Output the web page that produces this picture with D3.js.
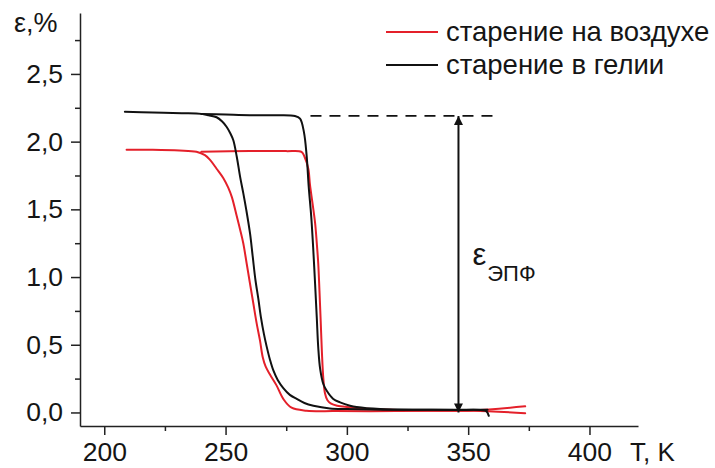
<!DOCTYPE html>
<html><head><meta charset="utf-8">
<script src="https://cdn.jsdelivr.net/npm/d3@7"></script>
<style>
body{margin:0;background:#fff}
svg text{font-family:"Liberation Sans",Arial,sans-serif;fill:#151515}
</style></head><body>
<svg id="chart" width="715" height="468"></svg>
<script>
// axis ticks
const xMajorTicks = [200, 250, 300, 350, 400];
const xMinorTicks = [225, 275, 325, 375];
const yMajorTicks = [0, 0.5, 1, 1.5, 2, 2.5];
const yMinorTicks = [0.25, 0.75, 1.25, 1.75, 2.25, 2.75];
const legendLabels = ["старение на воздухе", "старение в гелии"];

// strain ε (%) vs temperature T (K): two branches of each hysteresis loop
const airLow = [[209.2,1.94],[220,1.94],[231,1.935],[238,1.925],[241.5,1.90],[243.6,1.865],[246.3,1.80],[249.1,1.73],[251.1,1.66],[252.6,1.59],[254.6,1.45],[256,1.35],[257.3,1.25],[258.7,1.10],[260,0.96],[261.4,0.81],[262.8,0.66],[264.2,0.53],[265.3,0.41],[266.5,0.34],[268.3,0.28],[271,0.20],[273.8,0.10],[277.2,0.035],[283.4,0.013],[295,0.01],[320,0.01],[340,0.012],[352,0.012],[373.5,-0.005]];
const airHigh = [[240,1.925],[260,1.93],[275,1.93],[281.3,1.925],[282.5,1.89],[284.1,1.80],[284.8,1.68],[285.8,1.55],[286.9,1.40],[287.6,1.25],[288.2,1.10],[288.7,0.90],[289.2,0.68],[289.7,0.45],[290.3,0.25],[291,0.14],[292,0.09],[293.5,0.065],[296,0.05],[300,0.04],[310,0.025],[330,0.015],[352,0.015],[373.5,0.045]];
const heliumLow = [[208.5,2.22],[220,2.215],[232,2.21],[240,2.205],[243,2.195],[246.3,2.18],[248.5,2.15],[250.4,2.11],[252,2.06],[253.2,2.01],[254.6,1.89],[256,1.74],[257.3,1.62],[258.5,1.50],[260.1,1.32],[261.2,1.15],[262.3,0.98],[263.5,0.84],[264.6,0.70],[265.8,0.58],[266.9,0.49],[268.3,0.39],[269.7,0.31],[271.5,0.24],[273.8,0.18],[276.5,0.13],[279.3,0.10],[282.5,0.07],[286.2,0.05],[293,0.03],[300,0.025],[315,0.02],[330,0.02],[345,0.018],[355,0.018],[357.5,0.01],[358.5,-0.025]];
const heliumHigh = [[240,2.205],[250,2.20],[260,2.195],[270,2.195],[278.6,2.19],[280.7,2.17],[282.3,2.07],[283.4,1.90],[284.3,1.66],[285.3,1.45],[286.1,1.22],[286.9,0.95],[287.6,0.70],[288.2,0.48],[289,0.32],[290.3,0.21],[291.7,0.16],[294.4,0.10],[297.2,0.075],[301.3,0.05],[304,0.04],[313.7,0.025],[330,0.02],[345,0.02],[358,0.02]];

// ε_SME annotation: dashed saturation level and double arrow
const saturationLevel = 2.19;
const dashedRange = [285, 363];
const arrowT = 346;

const colors = {air: "#e4202a", helium: "#111111"};

const svg = d3.select("#chart");
const x = d3.scaleLinear().domain([190, 420]).range([80, 638]);
const y = d3.scaleLinear().domain([-0.1, 2.95]).range([426, 13]);
const fmt = d => d3.format(".1f")(d).replace(".", ",");

// axes: major ticks with labels, minor ticks without
const gx = svg.append("g").attr("transform", "translate(0,426)");
gx.call(d3.axisBottom(x).tickValues(xMajorTicks).tickSize(9).tickSizeOuter(0).tickPadding(7).tickFormat(d3.format("d")));
const gxm = svg.append("g").attr("transform", "translate(0,426)");
gxm.call(d3.axisBottom(x).tickValues(xMinorTicks).tickSize(5).tickSizeOuter(0).tickFormat(""));
gxm.select(".domain").remove();

const gy = svg.append("g").attr("transform", "translate(80,0)");
gy.call(d3.axisLeft(y).tickValues(yMajorTicks).tickSize(9).tickSizeOuter(0).tickPadding(8).tickFormat(fmt));
const gym = svg.append("g").attr("transform", "translate(80,0)");
gym.call(d3.axisLeft(y).tickValues(yMinorTicks).tickSize(5).tickSizeOuter(0).tickFormat(""));
gym.select(".domain").remove();

svg.selectAll(".domain, .tick line").attr("stroke", "#222").attr("stroke-width", 1.5);
svg.selectAll(".tick text").attr("font-size", 26.5).attr("fill", "#151515")
  .attr("font-family", "'Liberation Sans', Arial, sans-serif");

// axis titles
svg.append("text").attr("x", 14).attr("y", 32).attr("font-size", 27).text("ε,%");
svg.append("text").attr("x", 630).attr("y", 461).attr("font-size", 26).text("T, K");

// curves
const line = d3.line().x(d => x(d[0])).y(d => y(d[1])).curve(d3.curveCatmullRom.alpha(0.5));
[[airLow, colors.air], [airHigh, colors.air], [heliumLow, colors.helium], [heliumHigh, colors.helium]]
  .forEach(([data, c]) => {
    svg.append("path").datum(data).attr("d", line)
      .attr("fill", "none").attr("stroke", c).attr("stroke-width", 2)
      .attr("stroke-linejoin", "round").attr("stroke-linecap", "round");
  });

// dashed saturation line
svg.append("line")
  .attr("x1", x(dashedRange[0])).attr("x2", x(dashedRange[1]))
  .attr("y1", y(saturationLevel)).attr("y2", y(saturationLevel))
  .attr("stroke", "#111").attr("stroke-width", 1.6).attr("stroke-dasharray", "11,8");

// double-headed arrow
const defs = svg.append("defs");
defs.append("marker").attr("id", "ah").attr("viewBox", "0 0 10 10")
  .attr("refX", 10).attr("refY", 5).attr("markerWidth", 4.5).attr("markerHeight", 6)
  .attr("markerUnits", "strokeWidth").attr("orient", "auto-start-reverse")
  .append("path").attr("d", "M0,0 L10,5 L0,10 Z").attr("fill", "#111");
svg.append("line")
  .attr("x1", x(arrowT)).attr("x2", x(arrowT))
  .attr("y1", y(0)).attr("y2", y(saturationLevel))
  .attr("stroke", "#111").attr("stroke-width", 2)
  .attr("marker-start", "url(#ah)").attr("marker-end", "url(#ah)");

const lab = svg.append("text").attr("x", x(arrowT) + 14).attr("y", 265);
lab.append("tspan").attr("font-size", 31).text("ε");
lab.append("tspan").attr("font-size", 22).attr("dy", 16).attr("dx", 1).text("ЭПФ");

// legend
const legend = svg.append("g");
[[legendLabels[0], colors.air, 32], [legendLabels[1], colors.helium, 65]].forEach(([t, c, ly]) => {
  legend.append("line").attr("x1", 386).attr("x2", 438).attr("y1", ly).attr("y2", ly)
    .attr("stroke", c).attr("stroke-width", 2);
  legend.append("text").attr("x", 446).attr("y", ly + 9).attr("font-size", 27.5).text(t);
});
</script>
</body></html>
